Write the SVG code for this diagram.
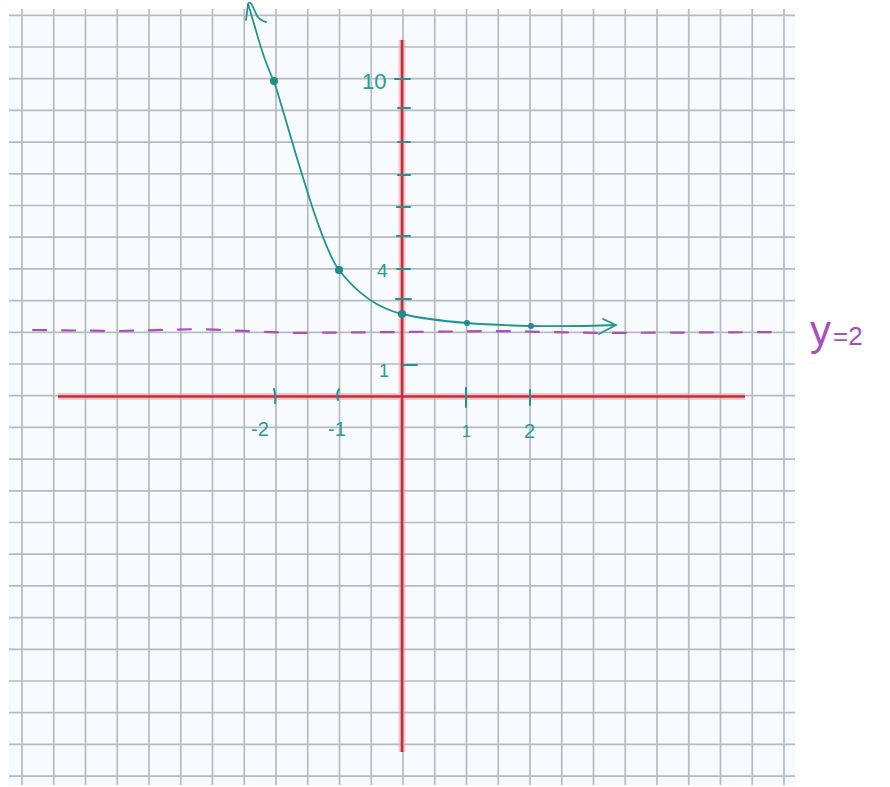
<svg xmlns="http://www.w3.org/2000/svg" width="890" height="787" viewBox="0 0 890 787">
  <style>
    .grid { stroke: #b6bbc0; stroke-width: 1.7; fill: none; }
    .axis-glow { stroke: #f2a0a8; stroke-width: 7; opacity: 0.55; fill: none; }
    .axis { stroke: #c2303c; stroke-width: 2.6; fill: none; }
    .teal { stroke: #23938f; stroke-width: 1.8; fill: none; stroke-linecap: round; stroke-linejoin: round; }
    .tick { stroke: #23938f; stroke-width: 2; fill: none; stroke-linecap: round; }
    .dot { fill: #1e8c88; }
    .lbl { fill: #2a9a96; font-family: "Liberation Sans", "DejaVu Sans", sans-serif; }
    .asym { stroke: #a94fbb; stroke-width: 2.2; fill: none; stroke-dasharray: 13 16; stroke-linecap: round; }
    .asym-lbl { fill: #a94fbb; font-family: "Liberation Sans", "DejaVu Sans", sans-serif; }
  </style>
  <rect x="0" y="0" width="890" height="787" fill="#ffffff"/>
  <g id="paper">
    <rect x="9" y="9" width="786" height="776" fill="#f7fbfd"/>
    <path class="grid" d="M22,9V785 M53.75,9V785 M85.5,9V785 M117.25,9V785 M149,9V785 M180.75,9V785 M212.5,9V785 M244.25,9V785 M276,9V785 M307.75,9V785 M339.5,9V785 M371.25,9V785 M403,9V785 M434.75,9V785 M466.5,9V785 M498.25,9V785 M530,9V785 M561.75,9V785 M593.5,9V785 M625.25,9V785 M657,9V785 M688.75,9V785 M720.5,9V785 M752.25,9V785 M784,9V785"/>
    <path class="grid" d="M9,15.3H795 M9,47H795 M9,78.7H795 M9,110.4H795 M9,142.1H795 M9,173.8H795 M9,205.5H795 M9,237.2H795 M9,268.9H795 M9,300.6H795 M9,332.3H795 M9,364H795 M9,395.7H795 M9,427.4H795 M9,459.1H795 M9,490.8H795 M9,522.5H795 M9,554.2H795 M9,585.9H795 M9,617.6H795 M9,649.3H795 M9,681H795 M9,712.7H795 M9,744.4H795 M9,776.1H795"/>
  </g>
  <g id="axes">
    <path class="axis-glow" d="M58,396.5H745 M402,40V752"/>
    <path class="axis" d="M58,396.5H745 M402,40V752"/>
  </g>
  <g id="ticks">
    <path class="tick" d="M395,79H410 M398,108H410 M398,142H410 M398,175H410 M397,207H410 M397,236H410 M397,269H410 M396,299H411 M403,365H417"/>
    <path class="tick" d="M274,389Q276,396 275,403 M339,389Q336,394 338,400 M466,388V407 M530,390V405"/>
  </g>
  <g id="labels">
    <text class="lbl" x="362" y="89" font-size="22">10</text>
    <text class="lbl" x="377" y="277" font-size="19">4</text>
    <text class="lbl" x="379" y="377" font-size="18">1</text>
    <text class="lbl" x="251" y="436" font-size="20">-2</text>
    <text class="lbl" x="328" y="436" font-size="20">-1</text>
    <text class="lbl" x="462" y="437" font-size="16">1</text>
    <text class="lbl" x="524" y="438" font-size="20">2</text>
  </g>
  <g id="asymptote">
    <path class="asym" d="M33,330 L120,331 L200,329 L290,333 L400,332 L500,331 L600,333 L785,332"/>
    <text class="asym-lbl" x="810" y="345"><tspan font-size="42">y</tspan><tspan font-size="26" dx="2">=2</tspan></text>
  </g>
  <g id="curve">
    <path class="teal" d="M248,4 C258,35 262,58 274,81 C292,138.6 320,245.3 339,270 C360,297.3 381,309 402,314 C424,319.3 445,321.2 467,323 C488,324.7 510,325.4 531,326 C560,326.5 590,326 616,325"/>
    <path class="teal" d="M246,20 L248,4 Q250,0 253,7 L257,16 Q261,21 266,22"/>
    <path class="teal" d="M603,319 L616,325 L599,334"/>
    <circle class="dot" cx="274" cy="81" r="4"/>
    <circle class="dot" cx="339" cy="270" r="4"/>
    <circle class="dot" cx="402" cy="314" r="4"/>
    <circle class="dot" cx="467" cy="323" r="3"/>
    <circle class="dot" cx="531" cy="326" r="3"/>
  </g>
</svg>
